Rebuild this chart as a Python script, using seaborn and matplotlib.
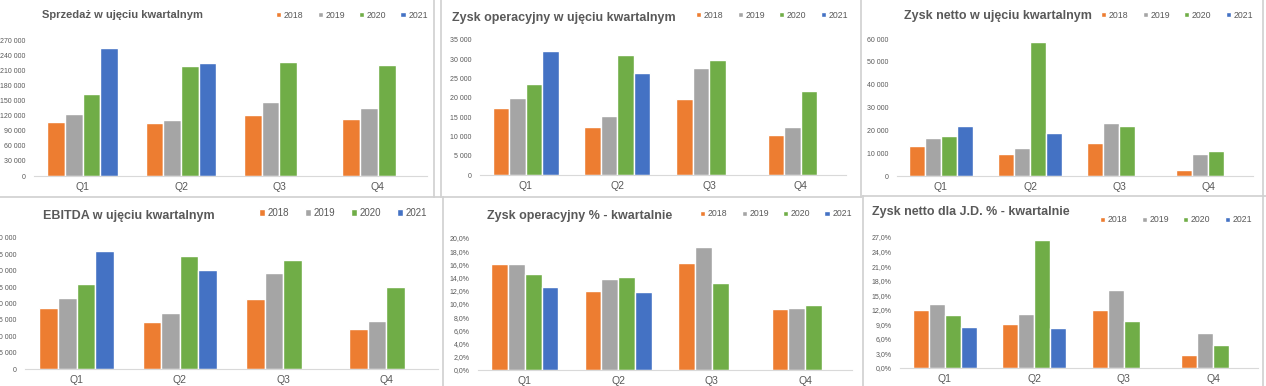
import numpy as np
import pandas as pd
import matplotlib
matplotlib.use("Agg")
import matplotlib.pyplot as plt
import seaborn as sns
from matplotlib.lines import Line2D

# dane
kwartaly = ["Q1", "Q2", "Q3", "Q4"]
lata = ["2018", "2019", "2020", "2021"]

sprzedaz = {
    "2018": [108000, 104600, 121000, 113800],
    "2019": [124000, 110500, 147000, 134300],
    "2020": [162000, 218400, 225700, 221000],
    "2021": [255000, 223700, np.nan, np.nan],
}
zysk_oper = {
    "2018": [17400, 12500, 19700, 10500],
    "2019": [20000, 15200, 27700, 12500],
    "2020": [23700, 31000, 29900, 21700],
    "2021": [32100, 26500, np.nan, np.nan],
}
zysk_netto = {
    "2018": [13000, 9500, 14300, 2800],
    "2019": [16500, 12100, 23400, 9500],
    "2020": [17700, 58700, 21700, 11000],
    "2021": [21700, 18900, np.nan, np.nan],
}
ebitda = {
    "2018": [18500, 14200, 21300, 12100],
    "2019": [21600, 17100, 29400, 14600],
    "2020": [26100, 34400, 33400, 25100],
    "2021": [36000, 30300, np.nan, np.nan],
}
zysk_oper_proc = {
    "2018": [16.0, 11.9, 16.2, 9.3],
    "2019": [16.05, 13.8, 18.7, 9.4],
    "2020": [14.5, 14.1, 13.2, 9.8],
    "2021": [12.6, 11.8, np.nan, np.nan],
}
zysk_netto_proc = {
    "2018": [11.9, 9.0, 12.0, 2.6],
    "2019": [13.2, 11.1, 16.0, 7.2],
    "2020": [10.95, 26.4, 9.7, 4.8],
    "2021": [8.4, 8.3, np.nan, np.nan],
}

kolory = {"2018": "#ED7D31", "2019": "#A5A5A5", "2020": "#70AD47", "2021": "#4472C4"}

W, H = 1266, 386
fig = plt.figure(figsize=(W / 100, H / 100), dpi=100)
fig.patch.set_facecolor("white")
plt.rcParams["font.family"] = ["Liberation Sans", "DejaVu Sans"]


def liczba(v, pos):
    return f"{int(round(v)):,}".replace(",", " ")


def procent(v, pos):
    return f"{v:.1f}%".replace(".", ",")


def rysuj(dane, tytul, box, ymax, krok, fmt, tyt_xy, leg_xy, tyt_fs=9, leg_fs=6.3):
    x0, x1, ytop, ybot = box
    ax = fig.add_axes([x0 / W, 1 - ybot / H, (x1 - x0) / W, (ybot - ytop) / H])
    df = pd.DataFrame([
        {"kwartal": q, "rok": r, "wartosc": dane[r][i]}
        for r in lata for i, q in enumerate(kwartaly)
    ])
    sns.barplot(data=df, x="kwartal", y="wartosc", hue="rok", hue_order=lata,
                palette=kolory, saturation=1, width=0.72, edgecolor="white",
                linewidth=1.0, ax=ax, legend=True)
    ax.set_xlim(-0.5, 3.5)
    ax.set_ylim(0, ymax)
    ax.set_yticks(np.arange(0, ymax + krok / 2, krok))
    ax.yaxis.set_major_formatter(plt.FuncFormatter(fmt))
    ax.set_xlabel("")
    ax.set_ylabel("")
    for s in ["top", "right", "left"]:
        ax.spines[s].set_visible(False)
    ax.spines["bottom"].set_color("#D9D9D9")
    ax.tick_params(axis="y", length=0, labelsize=5, labelcolor="#595959", pad=6)
    ax.tick_params(axis="x", length=0, labelsize=7.5, labelcolor="#595959", pad=4)
    ax.patch.set_alpha(0)
    h, l = ax.get_legend_handles_labels()
    ax.get_legend().remove()
    fig.legend(h, l, loc="center right", bbox_to_anchor=(leg_xy[0] / W, 1 - leg_xy[1] / H),
               ncol=4, frameon=False, fontsize=leg_fs, handlelength=0.6, handleheight=0.6,
               handletextpad=0.3, columnspacing=1.6, labelcolor="#595959",
               borderaxespad=0, borderpad=0)
    fig.text(tyt_xy[0] / W, 1 - tyt_xy[1] / H, tytul, fontsize=tyt_fs, fontweight="bold",
             color="#595959", ha="left", va="center")
    return ax


rysuj(sprzedaz, "Sprzedaż w ujęciu kwartalnym", (33.5, 427, 40, 176), 270000, 30000, liczba,
      (42, 15), (428, 15), tyt_fs=8)
rysuj(zysk_oper, "Zysk operacyjny w ujęciu kwartalnym", (480, 846.5, 40, 175), 35000, 5000, liczba,
      (452, 18), (848, 15))
rysuj(zysk_netto, "Zysk netto w ujęciu kwartalnym", (896.5, 1252.5, 39, 176), 60000, 10000, liczba,
      (904, 16), (1253, 15))
rysuj(ebitda, "EBITDA w ujęciu kwartalnym", (25, 438, 238, 369), 40000, 5000, liczba,
      (43, 216), (427, 213), leg_fs=7)
rysuj(zysk_oper_proc, "Zysk operacyjny % - kwartalnie", (478, 852, 238, 370), 20, 2, procent,
      (487, 216), (852, 214))
rysuj(zysk_netto_proc, "Zysk netto dla J.D. % - kwartalnie", (900, 1258, 237, 368), 27, 3, procent,
      (872, 212), (1252, 220))

# ramki wykresow (zrzuty ekranu z Excela)
def linia(xa, ya, xb, yb):
    fig.add_artist(Line2D([xa / W, xb / W], [1 - ya / H, 1 - yb / H],
                          transform=fig.transFigure, color="#D0D0D0", lw=1.2))

linia(0, 197, 441, 197)
linia(441, 0, 441, 197)
linia(434, 0, 434, 197)
linia(861, 0, 861, 197)
linia(443, 197, 443, 386)
linia(443, 197, 861, 197)
linia(863, 196, 863, 386)
linia(863, 196, 1266, 196)
linia(1263, 0, 1263, 386)

fig.savefig("out.png", dpi=100)
